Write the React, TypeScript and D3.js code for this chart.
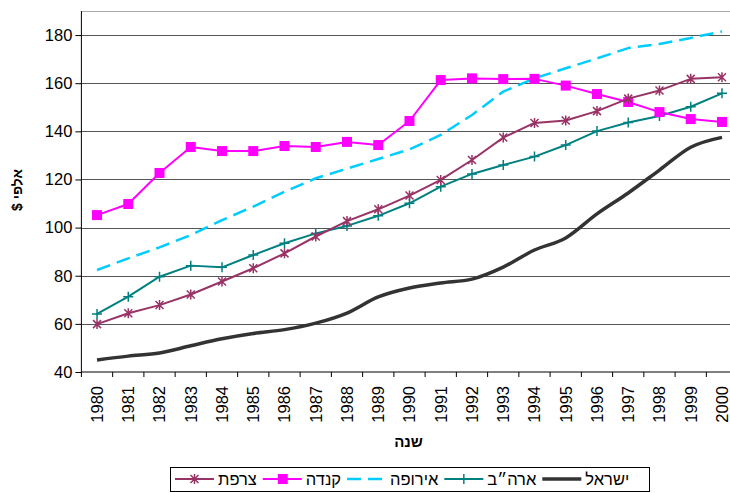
import React, { useEffect, useRef } from 'react';
import * as d3 from 'd3';

const years = ['1980', '1981', '1982', '1983', '1984', '1985', '1986', '1987', '1988', '1989', '1990',
  '1991', '1992', '1993', '1994', '1995', '1996', '1997', '1998', '1999', '2000'];

const israel = [45, 46.6, 47.9, 50.9, 53.8, 56, 57.6, 60.3, 64.5, 71.2, 74.9, 77, 78.6, 83.6, 90.7, 95.7, 105.7, 114.4, 123.9, 133.4, 137.5];
const usa = [64.1, 71.3, 79.6, 84.2, 83.5, 88.6, 93.5, 97.6, 100.7, 104.9, 110.1, 117, 122.3, 126, 129.5, 134.3, 140.1, 143.7, 146.4, 150.2, 155.8];
const europe = [82.4, 87.2, 91.8, 96.9, 103.1, 108.7, 114.9, 120.5, 124.5, 128.5, 132.5, 138.5, 146.8, 156.5, 162, 166.2, 170.3, 174.6, 176.3, 178.8, 181.5];
const canada = [105.2, 109.8, 122.7, 133.5, 131.8, 131.8, 133.9, 133.5, 135.6, 134.3, 144.3, 161.3, 162, 161.7, 161.8, 159, 155.5, 152.2, 148, 145.1, 143.9];
const france = [59.9, 64.4, 67.8, 72.2, 77.6, 83.1, 89.3, 96.3, 102.7, 107.6, 113.3, 119.8, 128.1, 137.4, 143.5, 144.5, 148.4, 153.6, 157, 161.8, 162.5];

const yTicks = [40, 60, 80, 100, 120, 140, 160, 180];

const FONT = '"Liberation Sans", Arial, sans-serif';

const series = [
  { name: 'ישראל', values: israel, color: '#333333', width: 3.5, dash: null, marker: 'none', smooth: true },
  { name: 'ארה״ב', values: usa, color: '#008080', width: 2, dash: null, marker: 'plus', smooth: false },
  { name: 'אירופה', values: europe, color: '#00CCFF', width: 2.5, dash: '14,7', marker: 'none', smooth: false },
  { name: 'קנדה', values: canada, color: '#FF00FF', width: 2, dash: null, marker: 'square', smooth: false },
  { name: 'צרפת', values: france, color: '#993366', width: 2, dash: null, marker: 'star', smooth: false },
];

const markerPath = {
  plus: 'M-5,0L5,0M0,-5L0,5',
  star: 'M-4,-4L4,4M-4,4L4,-4M0,-5L0,5',
};

const App = () => {
  const svgRef = useRef(null);

  useEffect(() => {
    const svg = d3.select(svgRef.current);
    svg.selectAll('*').remove();

    const left = 81.4;
    const right = 737.6;
    const top = 11;
    const bottom = 372;

    const xBand = d3.scaleBand().domain(years).range([left, right]).padding(0);
    const xc = (yr) => xBand(yr) + xBand.bandwidth() / 2;
    const y = d3.scaleLinear().domain([40, 190]).range([bottom, top]);

    // top border
    svg.append('line')
      .attr('x1', left).attr('x2', right).attr('y1', top + 0.5).attr('y2', top + 0.5)
      .attr('stroke', '#aaaaaa').attr('stroke-width', 1);

    // gridlines
    svg.append('g')
      .selectAll('line')
      .data(yTicks.slice(1))
      .join('line')
      .attr('x1', left).attr('x2', right)
      .attr('y1', (d) => Math.round(y(d)) + 0.5).attr('y2', (d) => Math.round(y(d)) + 0.5)
      .attr('stroke', '#555').attr('stroke-width', 1);

    // y axis
    const yAxis = d3.axisLeft(y).tickValues(yTicks).tickSize(6).tickPadding(3);
    const gy = svg.append('g').attr('transform', `translate(${left},0)`).call(yAxis);
    gy.select('.domain').attr('d', `M0,${top}V${bottom}`).attr('stroke', '#000');
    gy.selectAll('text').style('font-size', '16.5px').style('font-family', FONT).attr('fill', '#000');

    // x axis
    svg.append('line')
      .attr('x1', left).attr('x2', right).attr('y1', bottom).attr('y2', bottom)
      .attr('stroke', '#000');
    svg.append('g')
      .selectAll('line')
      .data(years.map((yr) => xBand(yr)).concat([right]))
      .join('line')
      .attr('x1', (d) => d).attr('x2', (d) => d)
      .attr('y1', bottom).attr('y2', bottom + 5)
      .attr('stroke', '#000');
    svg.append('g')
      .selectAll('text')
      .data(years)
      .join('text')
      .attr('transform', (d) => `translate(${xc(d)},${bottom + 14}) rotate(-90)`)
      .attr('dy', '0.35em')
      .attr('text-anchor', 'end')
      .style('font-size', '16.5px')
      .style('font-family', FONT)
      .text((d) => d);

    // axis titles
    svg.append('text')
      .attr('transform', `translate(22,190) rotate(-90)`)
      .attr('text-anchor', 'middle')
      .attr('direction', 'rtl')
      .style('font-size', '14px')
      .style('font-weight', 'bold')
      .style('font-family', FONT)
      .text('אלפי $');
    svg.append('text')
      .attr('x', (left + right) / 2 - 1)
      .attr('y', 447)
      .attr('text-anchor', 'middle')
      .style('font-size', '15px')
      .style('font-weight', 'bold')
      .style('font-family', FONT)
      .text('שנה');

    // series
    series.forEach((s) => {
      const line = d3.line()
        .x((d, i) => xc(years[i]))
        .y((d) => y(d))
        .curve(s.smooth ? d3.curveMonotoneX : d3.curveLinear);
      svg.append('path')
        .datum(s.values)
        .attr('d', line)
        .attr('fill', 'none')
        .attr('stroke', s.color)
        .attr('stroke-width', s.width)
        .attr('stroke-dasharray', s.dash)
        .attr('stroke-linejoin', 'round');

      if (s.marker === 'square') {
        svg.append('g').selectAll('rect')
          .data(s.values)
          .join('rect')
          .attr('x', (d, i) => xc(years[i]) - 5)
          .attr('y', (d) => y(d) - 5)
          .attr('width', 10).attr('height', 10)
          .attr('fill', s.color);
      } else if (s.marker !== 'none') {
        svg.append('g').selectAll('path')
          .data(s.values)
          .join('path')
          .attr('transform', (d, i) => `translate(${xc(years[i])},${y(d)})`)
          .attr('d', markerPath[s.marker])
          .attr('stroke', s.color)
          .attr('stroke-width', 1.5)
          .attr('fill', 'none');
      }
    });

    // legend (right-to-left reading, drawn left to right)
    const legend = svg.append('g');
    legend.append('rect')
      .attr('x', 170.5).attr('y', 467.5).attr('width', 479).attr('height', 24)
      .attr('fill', '#fff').attr('stroke', '#000').attr('stroke-width', 1);
    let lx = 175;
    const ly = 479;
    series.slice().reverse().forEach((s) => {
      legend.append('line')
        .attr('x1', lx).attr('x2', lx + 39).attr('y1', ly).attr('y2', ly)
        .attr('stroke', s.color).attr('stroke-width', s.width)
        .attr('stroke-dasharray', s.dash);
      if (s.marker === 'square') {
        legend.append('rect').attr('x', lx + 15).attr('y', ly - 5).attr('width', 10).attr('height', 10).attr('fill', s.color);
      } else if (s.marker !== 'none') {
        legend.append('path').attr('transform', `translate(${lx + 19.5},${ly})`)
          .attr('d', markerPath[s.marker]).attr('stroke', s.color).attr('stroke-width', 1.5).attr('fill', 'none');
      }
      const t = legend.append('text')
        .attr('x', lx + 43).attr('y', ly).attr('dy', '0.35em')
        .style('font-size', '16.5px').style('font-family', FONT)
        .text(s.name);
      const w = t.node().getComputedTextLength();
      lx = lx + 43 + w + 6;
    });
  }, []);

  return (
    <svg ref={svgRef} width={730} height={493}
      style={{ position: 'absolute', left: 0, top: 0, background: '#fff', overflow: 'hidden' }} />
  );
};

export default App;
